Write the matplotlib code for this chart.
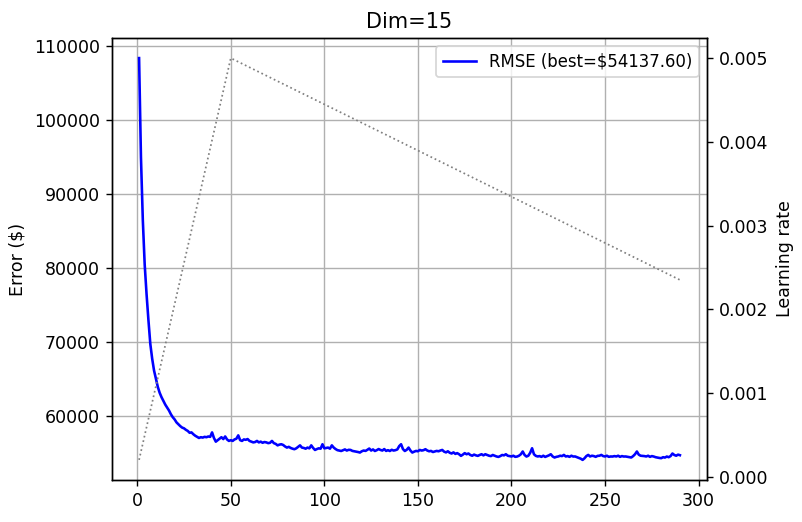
import matplotlib
matplotlib.use('Agg')
import matplotlib.pyplot as plt

# RMSE per epoch
rmse = [
    108400, 95000, 86500, 80500, 76500, 73000, 69800, 67800, 66200, 65100,
    64000, 63200, 62600, 62100, 61600, 61200, 60800, 60300, 59900, 59600,
    59200, 58950, 58700, 58500, 58400, 58200, 58050, 57800, 57850, 57600,
    57400, 57250, 57100, 57200, 57150, 57250, 57200, 57300, 57250, 57850,
    57100, 56600, 56800, 57000, 57200, 56950, 57300, 56900, 56700, 56800,
    56700, 56900, 57000, 57450, 56800, 56700, 56900, 56850, 56950, 56700,
    56600, 56500, 56550, 56700, 56500, 56600, 56450, 56550, 56500, 56400,
    56450, 56700, 56400, 56300, 56100, 56200, 56250, 56150, 55950, 55800,
    55900, 55750, 55650, 55580, 55700, 55900, 56100, 55800, 55750, 55650,
    55800, 55700, 56100, 55750, 55480, 55600, 55700, 55650, 56250, 55700,
    55750, 55800, 55650, 56100, 55800, 55600, 55450, 55400, 55340, 55450,
    55550, 55400, 55500, 55480, 55350, 55300, 55250, 55200, 55130, 55300,
    55400, 55350, 55500, 55670, 55400, 55550, 55340, 55450, 55600, 55480,
    55400, 55600, 55350, 55450, 55340, 55500, 55400, 55450, 55550, 56000,
    56250, 55600, 55340, 55500, 55800, 55400, 55130, 55250, 55350, 55300,
    55480, 55400, 55450, 55580, 55400, 55300, 55350, 55200, 55270, 55350,
    55300, 55400, 55480, 55250, 55150, 55300, 55100, 55000, 55150, 54950,
    55050, 54900, 54680, 54850, 55050, 54900, 55000, 54800, 54700, 54850,
    54750, 54680, 54800, 54900, 54750, 54900, 54800, 54700, 54650, 54800,
    54700, 54600, 54540, 54650, 54800, 54750, 54900, 54700, 54650, 54600,
    54700, 54550, 54590, 54700, 54900, 55270, 54800, 54590, 54700, 55100,
    55710, 54900, 54680, 54600, 54650, 54550, 54700, 54540, 54650, 54750,
    54900, 54600, 54460, 54550, 54600, 54700, 54650, 54810, 54600, 54650,
    54550, 54700, 54590, 54600, 54500, 54400, 54300, 54137.6, 54350, 54650,
    54810, 54600, 54700, 54650, 54550, 54680, 54700, 54810, 54650, 54600,
    54700, 54550, 54600, 54590, 54650, 54600, 54700, 54550, 54650, 54590,
    54600, 54550, 54500, 54460, 54650, 54900, 55270, 54850, 54700, 54680,
    54650, 54600, 54700, 54550, 54650, 54590, 54500, 54450, 54400, 54370,
    54500, 54450, 54590, 54500, 54650, 55000, 54800, 54700, 54850, 54770,
]
epochs = list(range(1, len(rmse) + 1))

# learning rate schedule: warmup then linear decay (corner points)
lr_epochs = [1, 50, 290]
lr_values = [0.0002, 0.005, 0.00235]

best = min(rmse)

fig = plt.figure(figsize=(6.416, 4.176), dpi=125)
ax = fig.add_axes([0.1397, 0.0805, 0.7418, 0.8467])
ax.plot(epochs, rmse, color='blue', linewidth=1.5, label=f'RMSE (best=\\${best:.2f})')
ax.set_ylabel('Error (\\$)')
ax.set_title('Dim=15')
ax.grid(True)
ax.legend(loc='upper right', fontsize=9.5)

ax2 = ax.twinx()
ax2.plot(lr_epochs, lr_values, color='gray', linestyle=':', linewidth=1)
ax2.set_ylabel('Learning rate')

fig.savefig('out.png', dpi=125)
